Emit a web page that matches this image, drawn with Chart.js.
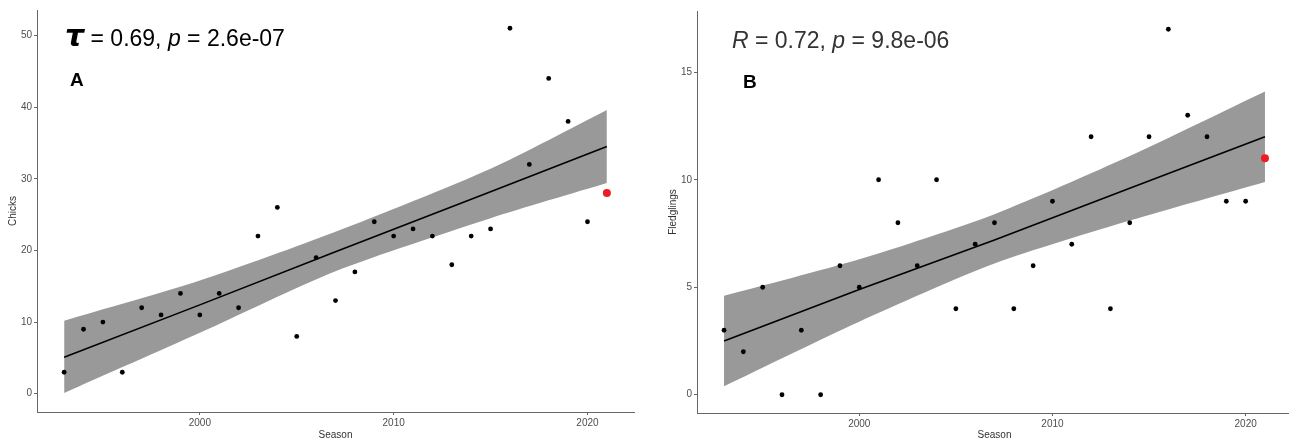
<!DOCTYPE html>
<html><head><meta charset="utf-8">
<script src="https://cdn.jsdelivr.net/npm/chart.js@4.4.1/dist/chart.umd.min.js"></script>
<style>
html,body{margin:0;padding:0;background:#fff;overflow:hidden;width:1289px;height:441px;}
#wrap{position:relative;width:1289px;height:441px;overflow:hidden;}
.panel{position:absolute;top:0;height:441px;}
#pa{left:0;width:645px;}
#pb{left:660px;width:640px;}
</style></head><body>
<div id="wrap">
<div class="panel" id="pa"><canvas id="ca"></canvas></div>
<div class="panel" id="pb"><canvas id="cb"></canvas></div>
</div>
<script>
// ---- data ----
const seasons = [1993,1994,1995,1996,1997,1998,1999,2000,2001,2002,2003,2004,2005,2006,2007,2008,2009,2010,2011,2012,2013,2014,2015,2016,2017,2018,2019,2020,2021];
const chicks = [3,9,10,3,12,11,14,11,14,12,22,26,8,19,13,17,24,22,23,22,18,22,23,51,32,44,38,24,28];
const fledglings = [3,2,5,0,3,0,6,5,10,8,6,10,4,7,8,4,6,9,7,12,4,8,12,17,13,12,9,9,11];
const highlightSeason = 2021;

const chicksFitSeasons = [1993,2000,2007,2015,2021];
const chicksFit   = [5.1,12.4,19.8,28.2,34.5];
const chicksUpper = [10.2,15.8,22.6,31.4,39.6];
const chicksLower = [0.1,8.5,17.1,24.5,29.4];

const fledFitSeasons = [1993,2000,2007,2014,2021];
const fledFit   = [2.5,4.9,7.2,9.6,12.0];
const fledUpper = [4.6,6.3,8.4,11.1,14.1];
const fledLower = [0.4,3.4,6.1,8.1,9.9];

const seasonTicks = [2000,2010,2020];
const chicksTicks = [0,10,20,30,40,50];
const fledTicks = [0,5,10,15];

// ---- helpers ----
const pts = (xs, ys) => xs.map((x,i)=>({x:x, y:ys[i]}));
const FONT = '"Liberation Sans", Arial, sans-serif';

const textPlugin = {
  id: 'panelText',
  afterDraw(chart, args, opts) {
    const ctx = chart.ctx;
    ctx.save();
    ctx.textBaseline = 'alphabetic';
    ctx.textAlign = 'left';
    let x = opts.x;
    for (const r of opts.runs) {
      ctx.font = r.font;
      ctx.fillStyle = opts.color;
      ctx.fillText(r.t, x, opts.y);
      x += ctx.measureText(r.t).width;
    }
    ctx.font = 'bold 19px ' + FONT;
    ctx.fillStyle = '#000';
    ctx.fillText(opts.letter, opts.lx, opts.ly);
    ctx.restore();
  }
};

function makeChart(id, vals, fitX, fit, upper, lower, yTicks, yMin, yMax, yTitle, padTop, padRight, xHeight, textOpts) {
  const black = [], red = [];
  seasons.forEach((s,i)=>{ (s===highlightSeason ? red : black).push({x:s, y:vals[i]}); });
  return new Chart(document.getElementById(id), {
    type: 'scatter',
    data: { datasets: [
      { type:'scatter', data: black, pointRadius: 2.4, pointBackgroundColor:'#000', pointBorderWidth:0, order: 0 },
      { type:'scatter', data: red, pointRadius: 4, pointBackgroundColor:'#ee1c25', pointBorderWidth:0, order: 0 },
      { type:'line', data: pts(fitX, fit), borderColor:'#000', borderWidth:1.6, pointRadius:0, tension:0, fill:false, order: 1 },
      { type:'line', data: pts(fitX, upper), borderWidth:0, borderColor:'rgba(0,0,0,0)', pointRadius:0, tension:0.25, fill:'+1', backgroundColor:'#999999', order: 2 },
      { type:'line', data: pts(fitX, lower), borderWidth:0, borderColor:'rgba(0,0,0,0)', pointRadius:0, tension:0.25, fill:false, order: 2 }
    ]},
    options: {
      responsive: true, maintainAspectRatio: false, animation: false,
      layout: { padding: { left: 0, top: padTop, right: padRight, bottom: 0 } },
      plugins: { legend:{display:false}, tooltip:{enabled:false}, panelText: textOpts },
      scales: {
        x: {
          type:'linear', min:1991.6, max:2022.4,
          afterBuildTicks: s => { s.ticks = seasonTicks.map(v=>({value:v})); },
          afterFit: s => { s.height = xHeight; },
          ticks: { callback: v => String(v), color:'#4d4d4d', font:{family:FONT, size:10}, padding:2, maxRotation:0 },
          grid: { drawOnChartArea:false, drawTicks:true, tickLength:3, color:'#666' },
          border: { display:true, color:'#666', width:1 },
          title: { display:true, text:'Season', color:'#333', font:{family:FONT, size:10}, padding:{top:0,bottom:0} }
        },
        y: {
          type:'linear', min:yMin, max:yMax,
          afterBuildTicks: s => { s.ticks = yTicks.map(v=>({value:v})); },
          afterFit: s => { s.width = 37; },
          ticks: { callback: v => String(v), color:'#4d4d4d', font:{family:FONT, size:10}, padding:2 },
          grid: { drawOnChartArea:false, drawTicks:true, tickLength:3, color:'#666' },
          border: { display:true, color:'#666', width:1 },
          title: { display:true, text:yTitle, color:'#333', font:{family:FONT, size:10}, padding:{top:7,bottom:0} }
        }
      }
    },
    plugins: [textPlugin]
  });
}

makeChart('ca', chicks, chicksFitSeasons, chicksFit, chicksUpper, chicksLower, chicksTicks, -2.55, 53.55, 'Chicks', 10, 11, 29, {
  x: 65, y: 46, color:'#000', letter:'A', lx: 70, ly: 86,
  runs: [
    {t:'\u03C4', font:'bold italic 30px "DejaVu Sans", sans-serif'},
    {t:' = 0.69, ', font:'23px ' + FONT},
    {t:'p', font:'italic 23px ' + FONT},
    {t:' = 2.6e-07', font:'23px ' + FONT}
  ]
});
makeChart('cb', fledglings, fledFitSeasons, fledFit, fledUpper, fledLower, fledTicks, -0.85, 17.85, 'Fledglings', 11, 8, 28, {
  x: 72, y: 48, color:'#333', letter:'B', lx: 83, ly: 88,
  runs: [
    {t:'R', font:'italic 23px ' + FONT},
    {t:' = 0.72, ', font:'23px ' + FONT},
    {t:'p', font:'italic 23px ' + FONT},
    {t:' = 9.8e-06', font:'23px ' + FONT}
  ]
});
</script>
</body></html>
